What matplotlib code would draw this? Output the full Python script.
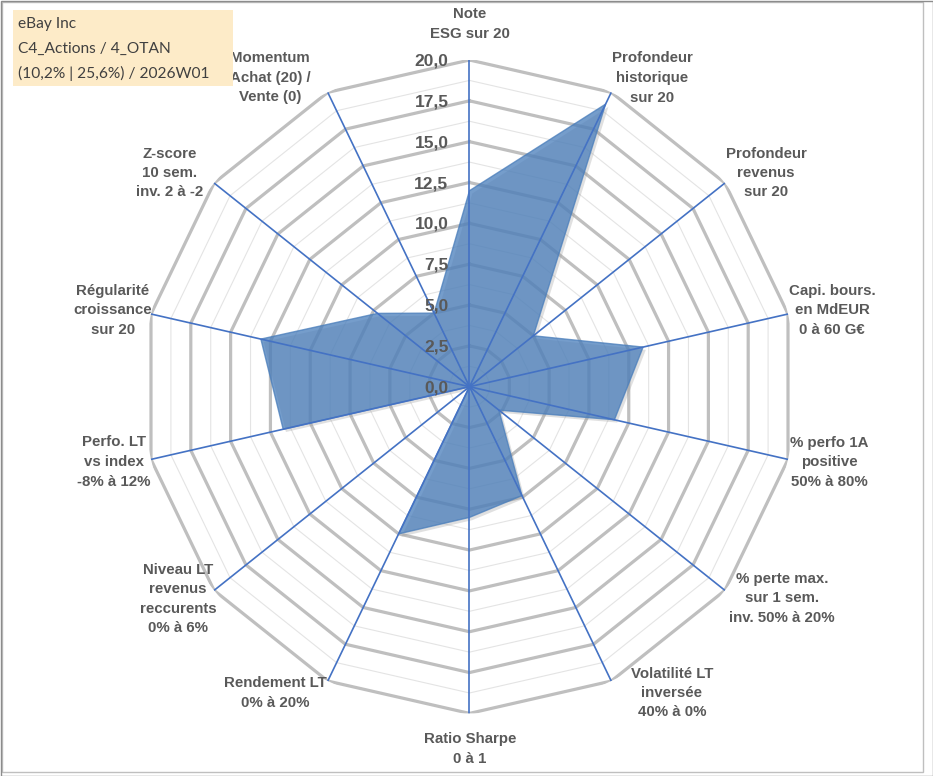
import numpy as np
import matplotlib
matplotlib.use("Agg")
import matplotlib.pyplot as plt
from matplotlib import transforms, patheffects
from matplotlib.patches import Rectangle

# ---------------- data ----------------
categories = [
    "Note\nESG sur 20",
    "Profondeur\nhistorique\nsur 20",
    "Profondeur\nrevenus\nsur 20",
    "Capi. bours.\nen MdEUR\n0 à 60 G€",
    "% perfo 1A\npositive\n50% à 80%",
    "% perte max.\nsur 1 sem.\ninv. 50% à 20%",
    "Volatilité LT\ninversée\n40% à 0%",
    "Ratio Sharpe\n0 à 1",
    "Rendement LT\n0% à 20%",
    "Niveau LT\nrevenus\nreccurents\n0% à 6%",
    "Perfo. LT\nvs index\n-8% à 12%",
    "Régularité\ncroissance\nsur 20",
    "Z-score\n10 sem.\ninv. 2 à -2",
    "Momentum\nAchat (20) /\nVente (0)",
]
values = [12.0, 19.2, 5.0, 10.9, 9.1, 2.3, 7.4, 8.0, 10.0, 0.0, 11.7, 13.1, 7.2, 5.0]
tick_values = [0, 2.5, 5, 7.5, 10, 12.5, 15, 17.5, 20]
tick_labels = ["0,0", "2,5", "5,0", "7,5", "10,0", "12,5", "15,0", "17,5", "20,0"]
minor_values = [1.25, 3.75, 6.25, 8.75, 11.25, 13.75, 16.25, 18.75]
legend_lines = ["eBay Inc", "C4_Actions / 4_OTAN", "(10,2% | 25,6%) / 2026W01"]
# label centres in pixels (x, y from top)
label_pos = [(470, 24), (652, 78), (766, 173), (832, 310), (829, 462), (782, 598),
             (672, 693), (470, 749), (275, 693), (178, 599), (114, 462), (113, 310),
             (170, 173), (270, 78)]

W, H = 933, 776
fig = plt.figure(figsize=(W / 100, H / 100), dpi=100)
fig.patch.set_facecolor("white")

# frame
fig.add_artist(Rectangle((2 / W, 4 / H), 921 / W, 770 / H, transform=fig.transFigure,
                         fill=False, edgecolor="#BFBFBF", linewidth=1.0))
fig.add_artist(Rectangle((0.5 / W, 0.5 / H), (W - 1) / W, (H - 1) / H, transform=fig.transFigure,
                         fill=False, edgecolor="#8C8C8C", linewidth=1.0))

cx, cy, R = 469.5, 386.7, 326.7
rect = [(cx - R) / W, (H - cy - R) / H, 2 * R / W, 2 * R / H]
ax = fig.add_axes(rect, projection="polar")
ax.set_theta_zero_location("N")
ax.set_theta_direction(-1)
ax.set_ylim(0, 20)
ax.grid(False)
ax.set_xticks([])
ax.set_yticks([])
ax.spines["polar"].set_visible(False)
ax.patch.set_alpha(0)

n = len(categories)
theta = np.linspace(0, 2 * np.pi, n, endpoint=False)
theta_c = np.append(theta, theta[0])

# rings
for v in minor_values:
    ax.plot(theta_c, [v] * (n + 1), color="#E4E4E4", lw=0.8, zorder=1)
for v in tick_values[1:]:
    ax.plot(theta_c, [v] * (n + 1), color="#BFBFBF", lw=2.3, zorder=1.5,
            solid_joinstyle="miter")

# data fill
vals_c = np.append(values, values[0])
shadow = [patheffects.SimplePatchShadow(offset=(2, -2), shadow_rgbFace="#9A9A9A", alpha=0.3),
          patheffects.Normal()]
ax.fill(theta_c, vals_c, facecolor="#4A7EBB", alpha=0.76, edgecolor="#4A7EBB",
        lw=1.0, zorder=2, path_effects=shadow)

# spokes
for t in theta:
    ax.plot([t, t], [0, 20], color="#4472C4", lw=1.2, zorder=3)

# radial tick labels
off = transforms.offset_copy(ax.transData, fig=fig, x=-21, y=-1, units="dots")
for v, lab in zip(tick_values, tick_labels):
    ax.text(0, v, lab, transform=off, ha="right", va="center", fontsize=12.5,
            fontweight="bold", color="#595959", family="Liberation Sans", zorder=4)

# category labels
for lab, (px, py) in zip(categories, label_pos):
    fig.text(px / W, 1 - py / H, lab, ha="center", va="center", fontsize=10.8,
             fontweight="bold", color="#595959", family="Liberation Sans",
             linespacing=1.5, multialignment="center")

# legend box
fig.add_artist(Rectangle((13 / W, 1 - 86 / H), 220 / W, 76 / H, transform=fig.transFigure,
                         facecolor="#FDEBC8", edgecolor="none", zorder=5))
for i, line in enumerate(legend_lines):
    fig.text(18 / W, 1 - (24 + 24.5 * i) / H, line, ha="left", va="center",
             fontsize=11.2, color="#404040", family="Lato", zorder=6)

fig.savefig("out.png", dpi=100, facecolor="white")
